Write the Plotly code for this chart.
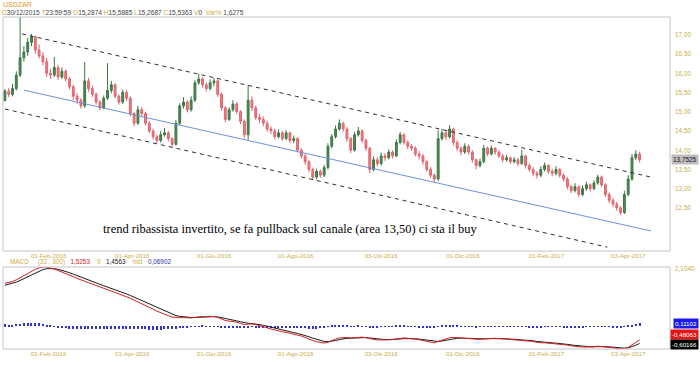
import plotly.graph_objects as go
import pandas as pd

# ---------------- DATA ----------------
start_date = "2015-12-30"          # first bar (header D30/12/2015)
first_open = 15.2874

closes = [15.5363, 15.45, 15.60, 15.95, 16.40, 16.55, 16.80, 16.95, 16.60, 16.45, 16.30, 16.00,
          15.95, 16.15, 15.90, 16.05, 15.85, 15.65, 15.40, 15.30, 15.15, 15.80, 15.60, 15.45,
          15.25, 15.10, 15.35, 15.55, 15.70, 15.40, 15.25, 15.50, 15.35, 14.95, 14.70, 15.05,
          14.95, 14.70, 14.50, 14.35, 14.25, 14.40, 14.45, 14.30, 14.15, 14.70, 15.15, 15.25,
          15.05, 15.30, 15.75, 15.85, 15.70, 15.60, 15.75, 15.80, 15.45, 15.10, 14.80, 15.05,
          15.20, 15.00, 14.75, 14.40, 15.30, 15.10, 14.85, 14.80, 14.70, 14.55, 14.50, 14.35,
          14.45, 14.30, 14.45, 14.25, 14.30, 14.00, 13.85, 13.70, 13.50, 13.30, 13.45, 13.35,
          13.55, 14.10, 14.35, 14.55, 14.70, 14.55, 14.30, 14.00, 14.40, 14.50, 14.25, 14.05,
          13.50, 13.75, 13.65, 13.85, 13.80, 13.95, 13.85, 14.20, 14.40, 14.20, 14.10, 14.05,
          13.90, 13.85, 13.70, 13.50, 13.35, 13.25, 14.30, 14.45, 14.35, 14.55, 14.20, 14.05,
          13.95, 14.10, 13.95, 13.75, 13.60, 13.70, 14.05, 13.90, 14.05, 13.95, 13.85, 13.75,
          13.80, 13.70, 13.75, 13.65, 13.85, 13.60, 13.50, 13.40, 13.35, 13.50, 13.60, 13.45,
          13.40, 13.50, 13.35, 13.25, 13.05, 12.95, 13.05, 12.85, 13.00, 13.10, 13.00, 13.15,
          13.30, 13.10, 12.85, 12.70, 12.60, 12.50, 12.38, 12.85, 13.25, 13.80, 13.90, 13.7525]

highs = [15.5885, 15.62, 15.72, 16.05, 17.90, 16.70, 16.92, 17.02, 16.98, 16.75, 16.55, 16.40,
         16.12, 16.42, 16.22, 16.15, 16.10, 15.90, 15.70, 15.48, 15.35, 16.29, 15.88, 15.68,
         15.50, 15.30, 15.42, 16.26, 15.80, 15.74, 15.45, 15.58, 15.56, 15.40, 15.00, 15.15,
         15.12, 15.00, 14.76, 14.56, 14.40, 14.50, 14.58, 14.50, 14.34, 14.78, 15.22, 15.38,
         15.30, 15.40, 15.82, 15.98, 15.90, 15.76, 15.84, 15.88, 15.84, 15.50, 15.14, 15.12,
         15.30, 15.25, 15.04, 14.80, 15.69, 15.40, 15.16, 14.95, 14.88, 14.76, 14.62, 14.56,
         14.54, 14.50, 14.52, 14.48, 14.38, 14.34, 14.05, 13.90, 13.74, 13.55, 13.52, 13.50,
         13.62, 14.18, 14.42, 14.64, 14.80, 14.74, 14.60, 14.34, 14.48, 14.60, 14.55, 14.30,
         14.08, 13.84, 13.82, 13.94, 13.92, 14.02, 14.00, 14.28, 14.47, 14.44, 14.26, 14.16,
         14.10, 13.98, 13.90, 13.74, 13.56, 13.40, 14.52, 14.56, 14.50, 14.65, 14.58, 14.26,
         14.10, 14.18, 14.14, 14.00, 13.78, 13.78, 14.14, 14.10, 14.12, 14.08, 14.00, 13.90,
         13.88, 13.84, 13.82, 13.80, 14.00, 13.88, 13.66, 13.56, 13.46, 13.58, 13.68, 13.64,
         13.52, 13.58, 13.54, 13.40, 13.30, 13.10, 13.14, 13.08, 13.08, 13.18, 13.14, 13.22,
         13.36, 13.34, 13.14, 12.90, 12.76, 12.66, 12.55, 12.95, 13.35, 13.90, 14.00, 13.96]

lows = [15.2687, 15.38, 15.40, 15.55, 15.90, 16.30, 16.45, 16.70, 16.50, 16.38, 16.20, 15.90,
        15.85, 15.90, 15.82, 15.85, 15.78, 15.58, 15.30, 15.20, 15.08, 15.10, 15.52, 15.38,
        15.18, 15.04, 15.06, 15.30, 15.48, 15.35, 15.18, 15.20, 15.28, 14.88, 14.62, 14.66,
        14.88, 14.64, 14.44, 14.28, 14.18, 14.20, 14.35, 14.22, 14.08, 14.12, 14.65, 15.08,
        14.98, 15.00, 15.25, 15.70, 15.62, 15.52, 15.55, 15.66, 15.38, 15.02, 14.72, 14.76,
        15.00, 14.94, 14.68, 14.30, 14.26, 15.02, 14.78, 14.70, 14.62, 14.48, 14.42, 14.28,
        14.30, 14.24, 14.26, 14.18, 14.18, 13.94, 13.78, 13.62, 13.42, 13.22, 13.24, 13.28,
        13.30, 13.50, 14.05, 14.30, 14.50, 14.48, 14.22, 13.92, 13.96, 14.35, 14.18, 13.98,
        13.40, 13.45, 13.58, 13.60, 13.72, 13.76, 13.78, 13.82, 14.15, 14.14, 14.02, 13.98,
        13.84, 13.76, 13.62, 13.44, 13.28, 13.17, 13.20, 14.25, 14.26, 14.30, 14.12, 13.98,
        13.86, 13.90, 13.88, 13.68, 13.50, 13.55, 13.66, 13.84, 13.86, 13.88, 13.80, 13.68,
        13.70, 13.64, 13.66, 13.58, 13.62, 13.52, 13.44, 13.32, 13.26, 13.30, 13.45, 13.38,
        13.32, 13.34, 13.28, 13.18, 12.98, 12.88, 12.90, 12.78, 12.80, 12.94, 12.92, 12.96,
        13.10, 13.04, 12.78, 12.62, 12.52, 12.42, 12.32, 12.34, 12.80, 13.20, 13.75, 13.68]

macd = [1.5253, 1.55, 1.59, 1.65, 1.73, 1.81, 1.89, 1.96, 2.02, 2.07, 2.10, 2.10,
        2.07, 2.03, 1.98, 1.93, 1.88, 1.82, 1.76, 1.70, 1.64, 1.60, 1.55, 1.50,
        1.45, 1.40, 1.35, 1.31, 1.27, 1.22, 1.16, 1.11, 1.06, 1.00, 0.93, 0.87,
        0.81, 0.75, 0.68, 0.61, 0.54, 0.48, 0.43, 0.38, 0.33, 0.31, 0.31, 0.31,
        0.30, 0.30, 0.32, 0.34, 0.35, 0.35, 0.35, 0.35, 0.32, 0.27, 0.21, 0.19,
        0.18, 0.15, 0.11, 0.06, 0.08, 0.09, 0.06, 0.03, -0.01, -0.05, -0.09, -0.13,
        -0.16, -0.19, -0.21, -0.24, -0.27, -0.30, -0.34, -0.39, -0.45, -0.50, -0.54, -0.57,
        -0.59, -0.56, -0.50, -0.45, -0.41, -0.39, -0.39, -0.41, -0.40, -0.38, -0.38, -0.40,
        -0.44, -0.46, -0.48, -0.48, -0.48, -0.47, -0.47, -0.44, -0.42, -0.41, -0.42, -0.43,
        -0.45, -0.47, -0.50, -0.53, -0.56, -0.58, -0.53, -0.48, -0.44, -0.40, -0.39, -0.40,
        -0.41, -0.41, -0.42, -0.44, -0.46, -0.46, -0.44, -0.43, -0.42, -0.42, -0.43, -0.44,
        -0.45, -0.46, -0.47, -0.48, -0.48, -0.50, -0.52, -0.54, -0.57, -0.58, -0.58, -0.59,
        -0.60, -0.61, -0.62, -0.64, -0.66, -0.69, -0.71, -0.72, -0.73, -0.73, -0.73, -0.72,
        -0.70, -0.71, -0.72, -0.74, -0.76, -0.78, -0.79, -0.78, -0.74, -0.66, -0.57, -0.48063]
signal_start = 1.4563
hist_start = 0.06902
signal_period = 9
# last values printed in the MACD scale boxes
last_hist, last_macd, last_signal = 0.11102, -0.48063, -0.60166

tick_dates = ["2016-02-01", "2016-04-01", "2016-06-01", "2016-08-01",
              "2016-10-03", "2016-12-01", "2017-02-01", "2017-04-03"]
tick_labels = ["01-Feb-2016", "01-Apr-2016", "01-Giu-2016", "01-Ago-2016",
               "03-Ott-2016", "01-Dic-2016", "01-Feb-2017", "03-Apr-2017"]

# trend lines: (business-day index, price)
upper_channel_x = [9, 340];  upper_channel_y = [17.02, 13.30]
lower_channel_x = [0, 317];  lower_channel_y = [15.07, 11.48]
mid_line_x = [10, 340];      mid_line_y = [15.56, 11.90]

price_ticks = [12.5, 13.0, 13.5, 14.0, 14.5, 15.0, 15.5, 16.0, 16.5, 17.0]
macd_top = 2.1040
note = "trend ribassista invertito, se fa pullback sul canale (area 13,50) ci sta il buy"

# ---------------- DERIVED ----------------
n = len(closes)
days = pd.bdate_range(start_date, periods=2 * n)
bar_x = [2 * k for k in range(n)]
opens = [first_open] + closes[:-1]
tick_idx = [int(days.searchsorted(pd.Timestamp(d))) for d in tick_dates]

alpha = 1 - (1 - 2 / (signal_period + 1)) ** 2   # 2 business days per bar
signal = [signal_start]
for v in macd[1:]:
    signal.append(signal[-1] + alpha * (v - signal[-1]))
hist = [m - s for m, s in zip(macd, signal)]

def it(v, d):
    return f"{v:.{d}f}".replace(".", ",")

# ---------------- FIGURE ----------------
W, H = 700, 365
def fx(x): return x / W
def fy(y): return 1 - y / H

YEL = "#c9ae48"
FONT = "Liberation Sans, Arial"
fig = go.Figure()

fig.add_trace(go.Candlestick(
    x=bar_x, open=opens, high=highs, low=lows, close=closes,
    increasing=dict(line=dict(color="#3c7643", width=1), fillcolor="#4d8a55"),
    decreasing=dict(line=dict(color="#e2646e", width=1), fillcolor="#ea7c84"),
    whiskerwidth=0, xaxis="x", yaxis="y", showlegend=False, hoverinfo="skip"))

for xs, ys, col, dash in [(upper_channel_x, upper_channel_y, "#303030", "4px,4px"),
                          (lower_channel_x, lower_channel_y, "#303030", "4px,4px"),
                          (mid_line_x, mid_line_y, "#6f90d6", "solid")]:
    fig.add_trace(go.Scatter(x=xs, y=ys, mode="lines", line=dict(color=col, width=1, dash=dash),
                             xaxis="x", yaxis="y", showlegend=False, hoverinfo="skip"))

fig.add_trace(go.Bar(x=bar_x, y=hist, width=0.6, marker=dict(color="#3434c8", line=dict(width=0)),
                     xaxis="x2", yaxis="y2", showlegend=False, hoverinfo="skip"))
fig.add_trace(go.Scatter(x=bar_x, y=signal, mode="lines", line=dict(color="#1a1a1a", width=1),
                         xaxis="x2", yaxis="y2", showlegend=False, hoverinfo="skip"))
fig.add_trace(go.Scatter(x=bar_x, y=macd, mode="lines", line=dict(color="#d42020", width=1),
                         xaxis="x2", yaxis="y2", showlegend=False, hoverinfo="skip"))

xdom = [fx(3), fx(670)]
xr = [-1, 350]
axfont = dict(family=FONT, size=6.2, color=YEL)
common_x = dict(domain=xdom, range=xr, showgrid=False, zeroline=False, showline=False,
                tickvals=tick_idx, ticktext=tick_labels, ticks="", tickfont=axfont,
                ticklabelstandoff=0)
fig.update_layout(
    width=W, height=H, margin=dict(l=0, r=0, t=0, b=0),
    paper_bgcolor="white", plot_bgcolor="white", bargap=0,
    xaxis=dict(anchor="y", rangeslider=dict(visible=False), **common_x),
    yaxis=dict(domain=[fy(251), fy(17)], range=[11.38, 17.46], side="right", anchor="x",
               showticklabels=False, showgrid=False, zeroline=False, ticks=""),
    xaxis2=dict(anchor="y2", **common_x),
    yaxis2=dict(domain=[fy(349), fy(267)], range=[-0.80, macd_top], side="right", anchor="x2",
                showticklabels=False, showgrid=False, zeroline=False, ticks=""),
    shapes=[
        dict(type="rect", xref="paper", yref="paper", x0=fx(3), x1=fx(670), y0=fy(251), y1=fy(17),
             line=dict(color="#c4c4c4", width=1)),
        dict(type="rect", xref="paper", yref="paper", x0=fx(3), x1=fx(670), y0=fy(349), y1=fy(267),
             line=dict(color="#c4c4c4", width=1)),
    ],
)

def span(t, c): return f'<span style="color:{c}">{t}</span>'
DK = "#444444"
SP = "&nbsp;"
line2 = (span("D", YEL) + span("30/12/2015 ", DK) + span("T", YEL) + span("23:59:59 ", DK) +
         span("O", YEL) + span("15,2874 ", DK) + span("H", YEL) + span("15,5885 ", DK) +
         span("L", YEL) + span("15,2687 ", DK) + span("C", YEL) + span("15,5363 ", DK) +
         span("V", YEL) + span("0 ", DK) + span(" Var% ", YEL) + span("1,6275", DK))
macd_hdr = (span("MACD", YEL) + SP * 5 + span("(32 , 300)", YEL) + SP * 3 +
            span(it(macd[0], 4), "#d42020") + SP * 4 + span("9", YEL) + SP * 3 +
            span(it(signal_start, 4), "#222222") + SP * 4 + span("hist", YEL) + SP * 3 +
            span(it(hist_start, 5), "#3030a0"))

ann = [
    dict(text=span("USDZAR", "#e39a2c"), x=fx(1), y=fy(4.5), xanchor="left", yanchor="middle", size=7),
    dict(text=line2, x=fx(0), y=fy(13), xanchor="left", yanchor="middle", size=6.6),
    dict(text=macd_hdr, x=fx(8), y=fy(262), xanchor="left", yanchor="middle", size=6.4),
    dict(text=span(it(macd_top, 4), YEL), x=fx(673), y=fy(268), xanchor="left", yanchor="middle", size=6.4),
]
ann = [dict({k: v for k, v in a.items() if k != "size"}, xref="paper", yref="paper", showarrow=False,
            font=dict(family=FONT, size=a["size"])) for a in ann]

for v in price_ticks:
    ann.append(dict(text=it(v, 2), xref="paper", yref="y", x=fx(673), y=v, xanchor="left",
                    yanchor="middle", showarrow=False, font=dict(family=FONT, size=6.4, color=YEL)))

ann.append(dict(text=it(closes[-1], 4), xref="paper", yref="y", x=fx(699), y=closes[-1], xanchor="right",
                yanchor="middle", showarrow=False, bgcolor="#bdbdbd", borderpad=1,
                font=dict(family=FONT, size=6.4, color="#202020")))
for txt, yy, bg in [(it(last_hist, 5), 323.5, "#1c1ce6"),
                    (it(last_macd, 5), 334, "#e41414"),
                    (it(last_signal, 5), 344, "#000000")]:
    ann.append(dict(text=txt, xref="paper", yref="paper", x=fx(699), y=fy(yy), xanchor="right",
                    yanchor="middle", showarrow=False, bgcolor=bg, borderpad=1,
                    font=dict(family=FONT, size=6.2, color="white")))
ann.append(dict(text=note, xref="paper", yref="paper", x=fx(290), y=fy(229), xanchor="center",
                yanchor="middle", showarrow=False,
                font=dict(family="Liberation Serif, Times New Roman", size=12.5, color="black")))
fig.update_layout(annotations=ann)

fig.write_html("out.html", config={"displayModeBar": False},
               post_script="document.body.style.margin='0';document.body.style.overflow='hidden';")
